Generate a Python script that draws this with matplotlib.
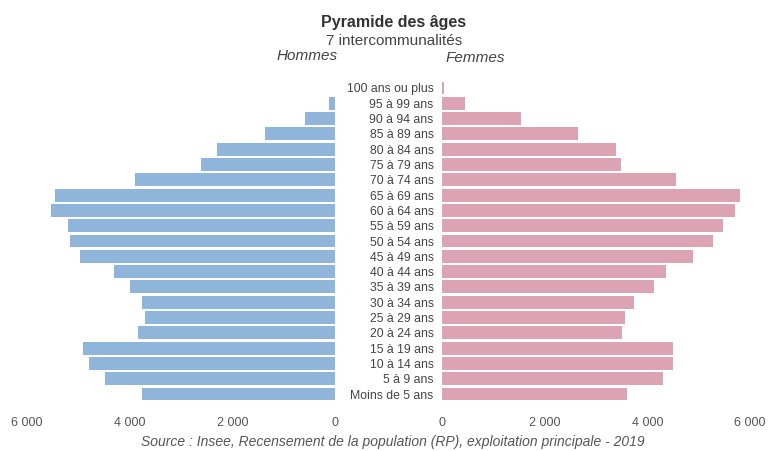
import matplotlib
matplotlib.use("Agg")
import matplotlib.pyplot as plt

plt.rcParams['font.family'] = ['Liberation Sans', 'DejaVu Sans']

ages = ["100 ans ou plus", "95 à 99 ans", "90 à 94 ans", "85 à 89 ans", "80 à 84 ans",
        "75 à 79 ans", "70 à 74 ans", "65 à 69 ans", "60 à 64 ans", "55 à 59 ans",
        "50 à 54 ans", "45 à 49 ans", "40 à 44 ans", "35 à 39 ans", "30 à 34 ans",
        "25 à 29 ans", "20 à 24 ans", "15 à 19 ans", "10 à 14 ans", "5 à 9 ans",
        "Moins de 5 ans"]
hommes = [0, 120, 590, 1370, 2300, 2610, 3900, 5450, 5530, 5200, 5160, 4970,
          4300, 3990, 3760, 3700, 3840, 4910, 4790, 4480, 3760]
femmes = [40, 450, 1540, 2650, 3390, 3490, 4560, 5800, 5710, 5480, 5280, 4890,
          4370, 4130, 3740, 3570, 3500, 4500, 4500, 4310, 3600]
xticks = [0, 2000, 4000, 6000]
xticklabels = ["0", "2 000", "4 000", "6 000"]

W, H = 768, 451
fig = plt.figure(figsize=(W / 100, H / 100), dpi=100)

top_px, bot_px = 80.3, 401.7
bottom = 1 - bot_px / H
height = (bot_px - top_px) / H

axL = fig.add_axes([27 / W, bottom, 308 / W, height])
axR = fig.add_axes([442 / W, bottom, 308 / W, height])

pos = list(range(len(ages)))
blue = "#8fb5db"
pink = "#dca3b2"
axL.barh(pos, hommes, height=0.84, color=blue)
axR.barh(pos, femmes, height=0.84, color=pink)

for ax in (axL, axR):
    ax.set_ylim(len(ages) - 0.5, -0.5)
    for s in ax.spines.values():
        s.set_visible(False)
    ax.set_xticks(xticks)
    ax.set_xticklabels(xticklabels)
    ax.tick_params(axis='x', length=0, pad=11, labelsize=9, labelcolor="#555555")

axL.set_xlim(6000, 0)
axR.set_xlim(0, 6000)
axL.set_yticks([])
axR.set_yticks(pos)
axR.set_yticklabels(ages)
axR.tick_params(axis='y', length=0, pad=6, labelsize=8.8, labelcolor="#444444")

fig.text(394 / W, 1 - 23 / H, "Pyramide des âges", ha="center", va="center",
         fontsize=11.5, fontweight="bold", color="#333333")
fig.text(394 / W, 1 - 41 / H, "7 intercommunalités", ha="center", va="center",
         fontsize=11, color="#444444")
fig.text(338 / W, 1 - 56 / H, "Hommes", ha="right", va="center",
         fontsize=11, style="italic", color="#444444")
fig.text(446 / W, 1 - 58 / H, "Femmes", ha="left", va="center",
         fontsize=11, style="italic", color="#444444")
fig.text(393 / W, 1 - 442 / H,
         "Source : Insee, Recensement de la population (RP), exploitation principale - 2019",
         ha="center", va="center", fontsize=10, style="italic", color="#555555")

fig.savefig("out.png", dpi=100, facecolor="white")
